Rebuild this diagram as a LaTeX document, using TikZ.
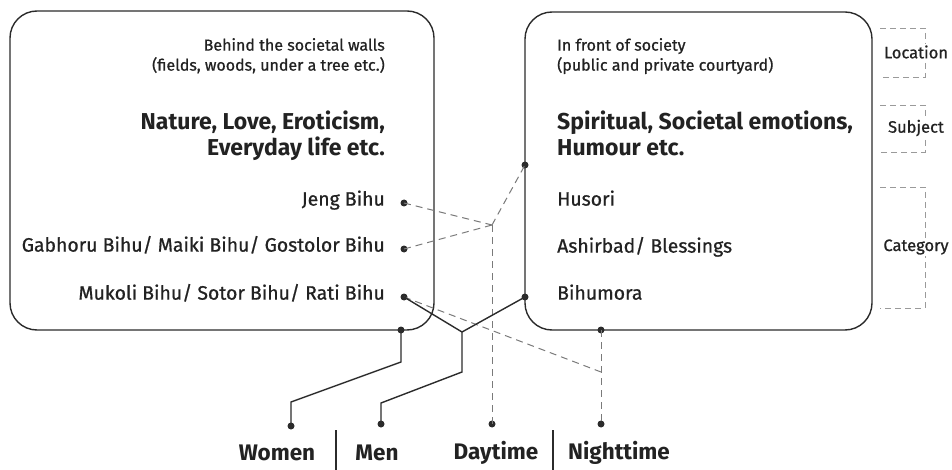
\documentclass[tikz,border=0pt]{standalone}
\usepackage{fontspec}
\setmainfont{Fira Sans}[UprightFeatures={FakeBold=0.8}]
\definecolor{txt}{HTML}{222222}
\definecolor{lineink}{HTML}{2B2B2B}
\definecolor{dashink}{HTML}{7A7A7A}
\definecolor{bracketink}{HTML}{9A9A9A}
\begin{document}
\begin{tikzpicture}[x=1pt,y=-1pt,
  panel/.style={draw=lineink, line width=1.4pt, rounded corners=27pt, inner sep=0pt},
  solidlink/.style={draw=lineink, line width=1.4pt},
  dashlink/.style={draw=dashink, line width=1pt, dash pattern=on 7pt off 5pt},
  bracket/.style={draw=bracketink, line width=0.9pt, dash pattern=on 6pt off 4pt},
  dot/.style={circle, fill=lineink, inner sep=0pt, minimum size=7pt},
  note/.style={font=\fontsize{16}{18}\selectfont, text=txt, inner sep=0pt},
  item/.style={font=\fontsize{19.4}{22}\selectfont, text=txt, inner sep=0pt},
  theme/.style={font=\fontsize{23}{26}\selectfont\bfseries, text=txt, inner sep=0pt},
  tag/.style={font=\fontsize{16.5}{18}\selectfont, text=txt, fill=white, inner sep=1.5pt},
  who/.style={font=\fontsize{22.5}{24}\selectfont\bfseries, text=txt, inner sep=0pt},
  divider/.style={draw=lineink, line width=1.4pt}]
\useasboundingbox (0,0) rectangle (952,470);

% two panels
\node[panel, minimum width=424pt, minimum height=319pt] (leftbox) at (222,170.5) {};
\node[panel, minimum width=347pt, minimum height=318pt] (rightbox) at (698.5,171) {};

% left panel texts (right aligned)
\node[note, anchor=mid east] (lloc1) at (385,48) {Behind the societal walls};
\node[note, anchor=mid east] (lloc2) at (385,68) {(fields, woods, under a tree etc.)};
\node[theme, anchor=mid east] (lsub1) at (385,127) {Nature, Love, Eroticism,};
\node[theme, anchor=mid east] (lsub2) at (385,153) {Everyday life etc.};
\node[item, anchor=mid east] (jeng) at (385,203) {Jeng Bihu};
\node[item, anchor=mid east] (gabhoru) at (385,249) {Gabhoru Bihu/ Maiki Bihu/ Gostolor Bihu};
\node[item, anchor=mid east] (mukoli) at (385,297) {Mukoli Bihu/ Sotor Bihu/ Rati Bihu};

% right panel texts (left aligned)
\node[note, anchor=mid west] (rloc1) at (557,48) {In front of society};
\node[note, anchor=mid west] (rloc2) at (557,68) {(public and private courtyard)};
\node[theme, anchor=mid west] (rsub1) at (557,127) {Spiritual, Societal emotions,};
\node[theme, anchor=mid west] (rsub2) at (557,153) {Humour etc.};
\node[item, anchor=mid west] (husori) at (557,203) {Husori};
\node[item, anchor=mid west] (ashirbad) at (557,250) {Ashirbad/ Blessings};
\node[item, anchor=mid west] (bihumora) at (557,297) {Bihumora};

% row brackets on the right
\draw[bracket] (880,28) -- (925,28) -- (925,77) -- (880,77);
\node[tag] (location) at (916,52) {Location};
\draw[bracket] (880,105) -- (925,105) -- (925,152) -- (880,152);
\node[tag] (subject) at (916,128) {Subject};
\draw[bracket] (880,187) -- (925,187) -- (925,308) -- (880,308);
\node[tag] (category) at (916,247) {Category};

% connection points
\node[dot] (djeng) at (404,203) {};
\node[dot] (dgab) at (404,249) {};
\node[dot] (dmuk) at (404,297) {};
\node[dot] (dleftbot) at (401,330) {};
\node[dot] (drtop) at (525,165) {};
\node[dot] (drbot) at (525,297) {};
\node[dot] (drbase) at (601,330) {};

\coordinate (dayjoin) at (492,225);
\coordinate (menjoin) at (462,332);
\coordinate (nightjoin) at (601,372);

% bottom labels
\node[dot] (dwomen) at (291,426) {};
\node[dot] (dmen) at (381,424) {};
\node[dot] (dday) at (492,424) {};
\node[dot] (dnight) at (601,424) {};
\node[who] (women) at (277,453) {Women};
\node[who] (men) at (377,453) {Men};
\node[who] (daytime) at (496,453) {Daytime};
\node[who] (nighttime) at (619,453) {Nighttime};
\draw[divider] (336,430) -- (336,470);
\draw[divider] (553,430) -- (553,470);

% daytime links (dashed)
\draw[dashlink] (djeng.center) -- (dayjoin);
\draw[dashlink] (dgab.center) -- (dayjoin);
\draw[dashlink] (dayjoin) -- (drtop.center);
\draw[dashlink] (dayjoin) -- (dday.center);

% nighttime links (dashed)
\draw[dashlink] (dmuk.center) -- (nightjoin);
\draw[dashlink] (drbase.center) -- (dnight.center);

% women / men links (solid)
\draw[solidlink] (dleftbot.center) -- (401,362) -- (291,402) -- (dwomen.center);
\draw[solidlink] (dmuk.center) -- (menjoin) -- (462,372) -- (381,403) -- (dmen.center);
\draw[solidlink] (menjoin) -- (drbot.center);
\end{tikzpicture}
\end{document}
